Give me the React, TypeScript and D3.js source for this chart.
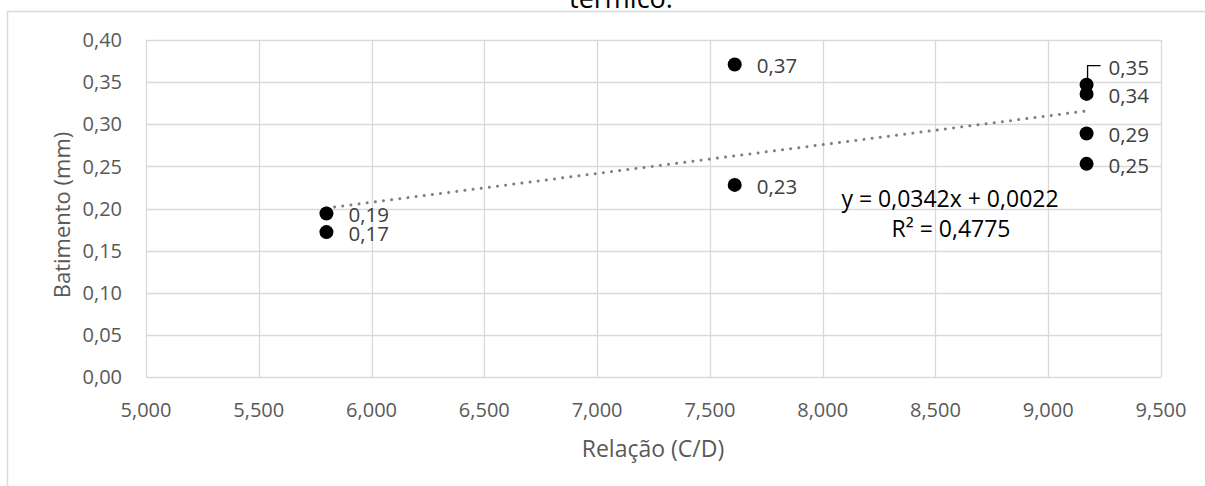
import React from "react";
import * as d3 from "d3";

const xValues = [5.8, 5.8, 7.61, 7.61, 9.17, 9.17, 9.17, 9.17];
const yValues = [0.194, 0.172, 0.371, 0.228, 0.347, 0.336, 0.289, 0.253];
const pointLabels = ["0,19", "0,17", "0,37", "0,23", "0,35", "0,34", "0,29", "0,25"];
const xTicks = [5, 5.5, 6, 6.5, 7, 7.5, 8, 8.5, 9, 9.5];
const yTicks = [0, 0.05, 0.1, 0.15, 0.2, 0.25, 0.3, 0.35, 0.4];
const trendSlope = 0.0342;
const trendIntercept = 0.0022;
const equationText = "y = 0,0342x + 0,0022";
const r2Text = "R² = 0,4775";
const titleText = "térmico.";
const xTitle = "Relação (C/D)";
const yTitle = "Batimento (mm)";

const W = 1205;
const H = 486;
const FONT = "'Open Sans', sans-serif";
const GRID = "#d9d9d9";

const fmtX = (v: number) => d3.format(".3f")(v).replace(".", ",");
const fmtY = (v: number) => d3.format(".2f")(v).replace(".", ",");

export default function App() {
  const x = d3.scaleLinear().domain([5, 9.5]).range([146, 1161]);
  const y = d3.scaleLinear().domain([0, 0.4]).range([377, 40]);

  const xMin = d3.min(xValues) as number;
  const xMax = d3.max(xValues) as number;
  const trend = d3
    .line<number>()
    .x((d) => x(d))
    .y((d) => y(trendSlope * d + trendIntercept));

  return (
    <svg
      width={W}
      height={H}
      style={{ position: "absolute", left: 0, top: 0, background: "#fff" }}
    >
      {/* outer chart frame */}
      <rect x={7.5} y={11.5} width={1300} height={600} fill="none" stroke={GRID} strokeWidth={1.5} />
      {/* title (cut off) */}
      <text x={621} y={7.5} textAnchor="middle" fontFamily={FONT} fontSize={27} fill="#000">
        {titleText}
      </text>

      {/* grid */}
      {xTicks.map((t) => (
        <line key={"gx" + t} x1={Math.round(x(t)) + 0.5} x2={Math.round(x(t)) + 0.5} y1={y(0.4)} y2={y(0)} stroke={GRID} strokeWidth={1.3} />
      ))}
      {yTicks.map((t) => (
        <line key={"gy" + t} x1={x(5)} x2={x(9.5)} y1={Math.round(y(t)) + 0.5} y2={Math.round(y(t)) + 0.5} stroke={GRID} strokeWidth={1.3} />
      ))}

      {/* tick labels */}
      {yTicks.map((t) => (
        <text key={"ly" + t} x={122} y={y(t)} dy="0.36em" textAnchor="end" fontFamily={FONT} fontSize={20} fill="#595959">
          {fmtY(t)}
        </text>
      ))}
      {xTicks.map((t) => (
        <text key={"lx" + t} x={x(t)} y={417} textAnchor="middle" fontFamily={FONT} fontSize={20} fill="#595959">
          {fmtX(t)}
        </text>
      ))}

      {/* axis titles */}
      <text x={653} y={457} textAnchor="middle" fontFamily={FONT} fontSize={23} fill="#595959">
        {xTitle}
      </text>
      <text transform="translate(70,215) rotate(-90)" textAnchor="middle" fontFamily={FONT} fontSize={22} fill="#595959">
        {yTitle}
      </text>

      {/* trendline */}
      <path
        d={trend([xMin, xMax]) as string}
        fill="none"
        stroke="#7f7f7f"
        strokeWidth={3}
        strokeDasharray="0.01 8.2"
        strokeLinecap="round"
      />

      {/* leader line for 0,35 */}
      <path
        d={`M${x(xValues[4]) + 1},${y(yValues[4]) - 5} V${y(yValues[4]) - 19} H${x(xValues[4]) + 14}`}
        fill="none"
        stroke="#000"
        strokeWidth={1.3}
      />

      {/* points */}
      {xValues.map((xv, i) => (
        <circle key={"p" + i} cx={x(xv)} cy={y(yValues[i])} r={7} fill="#000" />
      ))}

      {/* data labels */}
      {xValues.map((xv, i) => {
        const ly = i === 4 ? y(yValues[i]) - 17 : y(yValues[i]) + 1.5;
        return (
          <text key={"dl" + i} x={x(xv) + 22} y={ly} dy="0.36em" fontFamily={FONT} fontSize={20.5} fill="#404040">
            {pointLabels[i]}
          </text>
        );
      })}

      {/* equation */}
      <text x={950} y={206.5} textAnchor="middle" fontFamily={FONT} fontSize={23} fill="#000">
        {equationText}
      </text>
      <text x={951} y={236.5} textAnchor="middle" fontFamily={FONT} fontSize={23} fill="#000">
        {r2Text}
      </text>
    </svg>
  );
}
